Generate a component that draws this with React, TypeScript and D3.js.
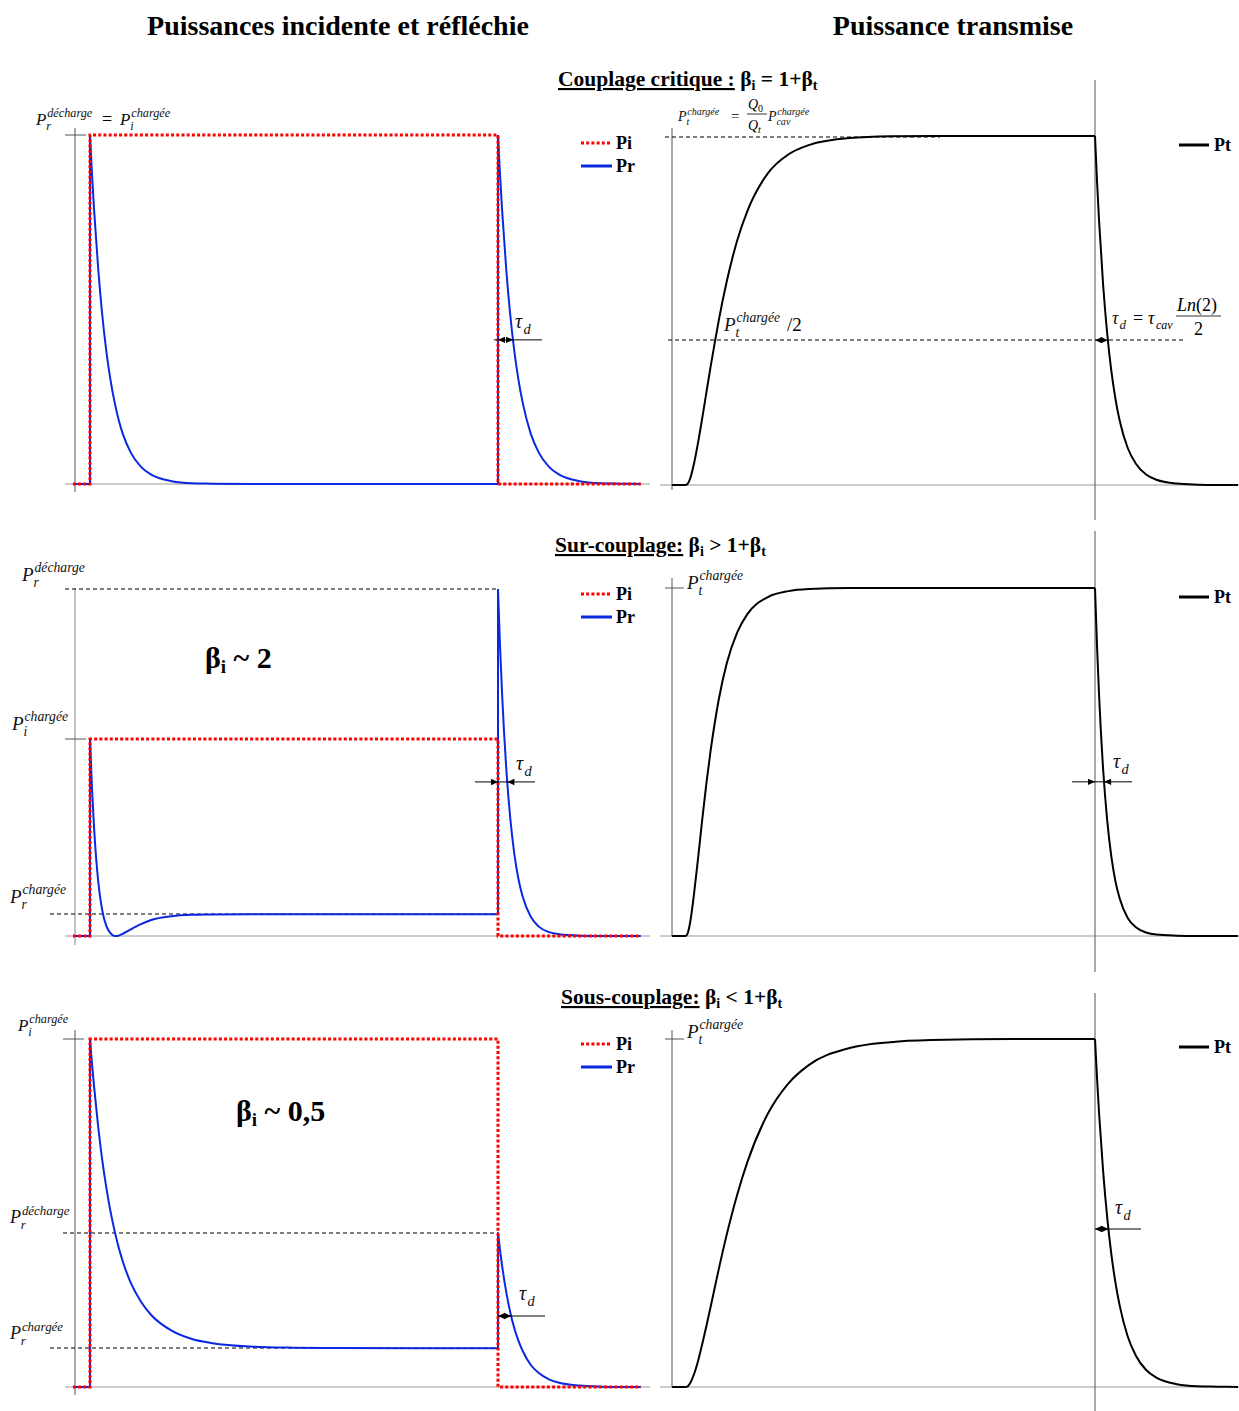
import React from 'react';
import * as d3 from 'd3';

// ---------- data (normalised power, time in pulse units: pulse = 0..10) ----------
const pulseEnd = 10;
const riseT = [0, 0.05, 0.1, 0.2, 0.3, 0.4, 0.5, 0.6, 0.7, 0.8, 1, 1.25, 1.5, 2, 2.5, 3, 4, 5, 6, 8, 10];
const fallT = [0, 0.05, 0.1, 0.2, 0.3, 0.4, 0.5, 0.6, 0.8, 1, 1.25, 1.5, 2, 2.5, 3, 3.5];

// Couplage critique
const piCritical = 1;
const prRiseCritical = [1, 0.886, 0.786, 0.618, 0.485, 0.381, 0.3, 0.236, 0.185, 0.145, 0.09, 0.049, 0.027, 0.008, 0.002, 0.001, 0, 0, 0, 0, 0];
const prFallCritical = [1, 0.886, 0.786, 0.618, 0.485, 0.381, 0.3, 0.236, 0.145, 0.09, 0.049, 0.027, 0.008, 0.002, 0.001, 0];
const ptRiseCritical = [0, 0.005, 0.018, 0.064, 0.125, 0.194, 0.266, 0.338, 0.406, 0.471, 0.585, 0.7, 0.785, 0.893, 0.947, 0.974, 0.994, 0.999, 1, 1, 1];
const ptFallCritical = [1, 0.869, 0.756, 0.571, 0.432, 0.326, 0.247, 0.186, 0.106, 0.061, 0.03, 0.015, 0.004, 0.001, 0, 0];

// Sur-couplage (beta ~ 2)
const piOver = 0.568;
const prRiseOver = [0.568, 0.423, 0.311, 0.159, 0.074, 0.029, 0.008, 0, 0.001, 0.006, 0.019, 0.034, 0.046, 0.057, 0.061, 0.062, 0.063, 0.063, 0.063, 0.063, 0.063];
const prFallOver = [1, 0.835, 0.698, 0.487, 0.34, 0.237, 0.165, 0.115, 0.056, 0.027, 0.011, 0.005, 0.001, 0, 0, 0];
const ptRiseOver = [0, 0.011, 0.038, 0.125, 0.229, 0.338, 0.44, 0.531, 0.61, 0.679, 0.785, 0.872, 0.925, 0.974, 0.991, 0.997, 1, 1, 1, 1, 1];
const ptFallOver = [1, 0.831, 0.691, 0.477, 0.33, 0.228, 0.157, 0.109, 0.052, 0.025, 0.01, 0.004, 0.001, 0, 0, 0];

// Sous-couplage (beta ~ 0,5)
const piUnder = 1;
const prRiseUnder = [1, 0.928, 0.863, 0.748, 0.652, 0.573, 0.506, 0.45, 0.402, 0.362, 0.299, 0.245, 0.207, 0.162, 0.138, 0.126, 0.116, 0.113, 0.112, 0.111, 0.111];
const prFallUnder = [0.444, 0.393, 0.349, 0.274, 0.215, 0.169, 0.133, 0.105, 0.064, 0.04, 0.022, 0.012, 0.004, 0.001, 0, 0];
const ptRiseUnder = [0, 0.003, 0.011, 0.038, 0.077, 0.125, 0.176, 0.229, 0.284, 0.338, 0.44, 0.552, 0.646, 0.785, 0.872, 0.925, 0.974, 0.991, 0.997, 1, 1];
const ptFallUnder = [1, 0.887, 0.786, 0.618, 0.485, 0.381, 0.3, 0.236, 0.145, 0.09, 0.049, 0.027, 0.008, 0.002, 0.001, 0];

// tau_d arrow levels (normalised)
const tauLevelsLeft = [0.413, 0.444, 0.204];
const tauLevelsRight = [0.415, 0.443, 0.454];

// ---------- helpers ----------
const FONT = '"Liberation Serif", "Times New Roman", serif';
type P2 = [number, number];

function crossing(ts: number[], vs: number[], v: number): number {
  for (let i = 0; i < ts.length - 1; i++) {
    if (vs[i] >= v && vs[i + 1] <= v) {
      const f = (vs[i] - v) / (vs[i] - vs[i + 1] || 1);
      return ts[i] + f * (ts[i + 1] - ts[i]);
    }
  }
  return 0;
}

function makeGens(x: d3.ScaleLinear<number, number>, y: d3.ScaleLinear<number, number>) {
  const lin = d3.line<P2>().x((d) => x(d[0])).y((d) => y(d[1]));
  const smooth = d3.line<P2>().x((d) => x(d[0])).y((d) => y(d[1])).curve(d3.curveMonotoneX);
  return { lin, smooth };
}

function Arrowhead({ x, y, dir }: { x: number; y: number; dir: number }) {
  const l = 7, h = 3.2;
  return <path d={`M${x},${y}L${x - dir * l},${y - h}L${x - dir * l},${y + h}Z`} fill="#000" />;
}

function TauArrow({ x0, x1, y, mode, extL, extR }: { x0: number; x1: number; y: number; mode: string; extL: number; extR: number }) {
  return (
    <g>
      <line x1={extL} x2={extR} y1={y} y2={y} stroke="#000" strokeWidth={1} />
      {mode === 'out' ? (
        <>
          <Arrowhead x={x0} y={y} dir={-1} />
          <Arrowhead x={x1} y={y} dir={1} />
        </>
      ) : (
        <>
          <Arrowhead x={x0} y={y} dir={1} />
          <Arrowhead x={x1} y={y} dir={-1} />
        </>
      )}
    </g>
  );
}

function MathP({ x, y, sup, sub, size = 18 }: { x: number; y: number; sup: string; sub: string; size?: number }) {
  const s = size * 0.72;
  return (
    <g fontFamily={FONT} fontStyle="italic" fill="#111">
      <text x={x} y={y} fontSize={size}>P</text>
      <text x={x + size * 0.66} y={y - size * 0.45} fontSize={s}>{sup}</text>
      <text x={x + size * 0.6} y={y + size * 0.32} fontSize={s}>{sub}</text>
    </g>
  );
}

function Tau({ x, y, size = 20 }: { x: number; y: number; size?: number }) {
  return (
    <g fontFamily={FONT} fontStyle="italic" fill="#111">
      <text x={x} y={y} fontSize={size}>τ</text>
      <text x={x + size * 0.42} y={y + size * 0.3} fontSize={size * 0.72}>d</text>
    </g>
  );
}

function LegendLeft({ y }: { y: number }) {
  return (
    <g fontFamily={FONT} fontWeight="bold" fontSize={18}>
      <line x1={581} x2={612} y1={y} y2={y} stroke="#ff0000" strokeWidth={3} strokeDasharray="3,2.2" />
      <text x={616} y={y + 6}>Pi</text>
      <line x1={581} x2={612} y1={y + 23} y2={y + 23} stroke="#0a28e0" strokeWidth={3} />
      <text x={616} y={y + 29}>Pr</text>
    </g>
  );
}

function LegendRight({ y }: { y: number }) {
  return (
    <g fontFamily={FONT} fontWeight="bold" fontSize={18}>
      <line x1={1179} x2={1209} y1={y} y2={y} stroke="#000" strokeWidth={3} />
      <text x={1214} y={y + 6}>Pt</text>
    </g>
  );
}

function LeftCurves({ base, top, pi, prRise, prFall, tauLevel, mode, extL, extR }: any) {
  const x = d3.scaleLinear().domain([0, pulseEnd]).range([90, 498]);
  const y = d3.scaleLinear().domain([0, 1]).range([base, top]);
  const { lin, smooth } = makeGens(x, y);
  const tEnd = pulseEnd + fallT[fallT.length - 1];
  const prPath =
    (lin([[-0.37, 0], [0, 0], [0, prRise[0]]]) || '') +
    (smooth(riseT.map((t, i) => [t, prRise[i]] as P2)) || '') +
    (lin([[pulseEnd, prRise[prRise.length - 1]], [pulseEnd, prFall[0]]]) || '') +
    (smooth(fallT.map((t, i) => [pulseEnd + t, prFall[i]] as P2)) || '');
  const piPath = lin([[-0.42, 0], [0, 0], [0, pi], [pulseEnd, pi], [pulseEnd, 0], [tEnd, 0]]) || '';
  const dt = crossing(fallT, prFall, tauLevel);
  return (
    <g>
      <path d={prPath} fill="none" stroke="#0a28e0" strokeWidth={2} strokeLinejoin="round" />
      <path d={piPath} fill="none" stroke="#ff0000" strokeWidth={3} strokeDasharray="3,2.2" />
      <TauArrow x0={x(pulseEnd)} x1={x(pulseEnd + dt)} y={y(tauLevel)} mode={mode} extL={extL} extR={extR} />
    </g>
  );
}

function RightCurves({ base, top, ptRise, ptFall, tauLevel, mode, extL, extR }: any) {
  const x = d3.scaleLinear().domain([0, pulseEnd]).range([686, 1095]);
  const y = d3.scaleLinear().domain([0, 1]).range([base, top]);
  const { lin, smooth } = makeGens(x, y);
  const ptPath =
    (lin([[-0.34, 0], [0, 0]]) || '') +
    (smooth(riseT.map((t, i) => [t, ptRise[i]] as P2)) || '') +
    (smooth(fallT.map((t, i) => [pulseEnd + t, ptFall[i]] as P2)) || '');
  const dt = crossing(fallT, ptFall, tauLevel);
  return (
    <g>
      <path d={ptPath} fill="none" stroke="#000" strokeWidth={2} strokeLinejoin="round" />
      <TauArrow x0={x(pulseEnd)} x1={x(pulseEnd + dt)} y={y(tauLevel)} mode={mode} extL={extL} extR={extR} />
    </g>
  );
}

const AX = '#555';
const BASE = '#999';

function Subtitle({ x, y, head, rel }: { x: number; y: number; head: string; rel: string }) {
  return (
    <text x={x} y={y}>
      <tspan style={{ textDecoration: 'underline' }}>{head}</tspan>
      <tspan> β</tspan><tspan fontSize={14} dy={4}>i</tspan><tspan dy={-4}>{` ${rel} 1+β`}</tspan><tspan fontSize={14} dy={4}>t</tspan>
    </text>
  );
}

export default function App() {
  return (
    <svg width={1239} height={1411} viewBox="0 0 1239 1411" style={{ position: 'absolute', left: 0, top: 0, display: 'block', background: '#fff' }}>
      <rect width={1239} height={1411} fill="#fff" />
      {/* titles */}
      <g fontFamily={FONT} fontWeight="bold" fontSize={28} fill="#000" textAnchor="middle">
        <text x={338} y={35}>Puissances incidente et réfléchie</text>
        <text x={953} y={35}>Puissance transmise</text>
      </g>
      {/* subtitles */}
      <g fontFamily={FONT} fontWeight="bold" fontSize={21.5} fill="#000">
        <Subtitle x={558} y={86} head="Couplage critique :" rel="=" />
        <Subtitle x={555} y={552} head="Sur-couplage:" rel=">" />
        <Subtitle x={561} y={1004} head="Sous-couplage:" rel="<" />
      </g>

      {/* ===== Panel 1 left ===== */}
      <line x1={65} x2={650} y1={484} y2={484} stroke={BASE} strokeWidth={1} />
      <line x1={75} x2={75} y1={128} y2={492} stroke={AX} strokeWidth={1} />
      <line x1={65} x2={86} y1={135} y2={135} stroke={AX} strokeWidth={1} />
      <LeftCurves base={484} top={135} pi={piCritical} prRise={prRiseCritical} prFall={prFallCritical} tauLevel={tauLevelsLeft[0]} mode="out" extL={494} extR={542} />
      <MathP x={36} y={125} sup="décharge" sub="r" size={17} />
      <text x={102} y={125} fontFamily={FONT} fontSize={18}>=</text>
      <MathP x={120} y={125} sup="chargée" sub="i" size={17} />
      <Tau x={515} y={328} />
      <LegendLeft y={143} />

      {/* ===== Panel 1 right ===== */}
      <line x1={660} x2={1237} y1={485} y2={485} stroke={BASE} strokeWidth={1} />
      <line x1={672} x2={672} y1={128} y2={490} stroke={AX} strokeWidth={1} />
      <line x1={1095} x2={1095} y1={80} y2={520} stroke={AX} strokeWidth={1} />
      <line x1={665} x2={940} y1={137} y2={137} stroke="#000" strokeWidth={1} strokeDasharray="4,3" />
      <line x1={668} x2={1185} y1={340} y2={340} stroke="#000" strokeWidth={1} strokeDasharray="4,3" />
      <RightCurves base={485} top={136} ptRise={ptRiseCritical} ptFall={ptFallCritical} tauLevel={tauLevelsRight[0]} mode="out" extL={1095} extR={1095} />
      <MathP x={678} y={121} sup="chargée" sub="t" size={14} />
      <text x={731} y={121} fontFamily={FONT} fontSize={15}>=</text>
      <g fontFamily={FONT} fontStyle="italic" fontSize={14}>
        <text x={748} y={109}>Q</text><text x={758} y={112} fontSize={10} fontStyle="normal">0</text>
        <text x={748} y={130}>Q</text><text x={758} y={133} fontSize={10}>t</text>
      </g>
      <line x1={747} x2={767} y1={114} y2={114} stroke="#000" strokeWidth={0.8} />
      <MathP x={768} y={121} sup="chargée" sub="cav" size={14} />
      <MathP x={724} y={331} sup="chargée" sub="t" size={19} />
      <text x={787} y={331} fontFamily={FONT} fontSize={19}>/2</text>
      <Tau x={1112} y={324} size={18} />
      <text x={1133} y={324} fontFamily={FONT} fontSize={18}>=</text>
      <g fontFamily={FONT} fontStyle="italic">
        <text x={1148} y={324} fontSize={18}>τ</text>
        <text x={1156} y={329} fontSize={12}>cav</text>
        <text x={1177} y={311} fontSize={18}>Ln<tspan fontStyle="normal">(2)</tspan></text>
        <text x={1194} y={335} fontSize={18} fontStyle="normal">2</text>
      </g>
      <line x1={1176} x2={1221} y1={316} y2={316} stroke="#000" strokeWidth={0.8} />
      <LegendRight y={145} />

      {/* ===== Panel 2 left ===== */}
      <line x1={65} x2={650} y1={936} y2={936} stroke={BASE} strokeWidth={1} />
      <line x1={75} x2={75} y1={588} y2={945} stroke="#999" strokeWidth={1.2} />
      <line x1={65} x2={498} y1={589} y2={589} stroke="#000" strokeWidth={1} strokeDasharray="4,3" />
      <line x1={65} x2={86} y1={739} y2={739} stroke={AX} strokeWidth={1} />
      <line x1={50} x2={498} y1={914} y2={914} stroke="#000" strokeWidth={1} strokeDasharray="4,3" />
      <LeftCurves base={936} top={589} pi={piOver} prRise={prRiseOver} prFall={prFallOver} tauLevel={tauLevelsLeft[1]} mode="in" extL={475} extR={535} />
      <MathP x={22} y={581} sup="décharge" sub="r" size={19} />
      <MathP x={12} y={730} sup="chargée" sub="i" size={19} />
      <MathP x={10} y={903} sup="chargée" sub="r" size={19} />
      <Tau x={516} y={770} />
      <text x={205} y={668} fontFamily={FONT} fontWeight="bold" fontSize={30}>β<tspan fontSize={19} dy={5}>i</tspan><tspan dy={-5}> ~ 2</tspan></text>
      <LegendLeft y={594} />

      {/* ===== Panel 2 right ===== */}
      <line x1={660} x2={1237} y1={936} y2={936} stroke={BASE} strokeWidth={1} />
      <line x1={672} x2={672} y1={578} y2={936} stroke={AX} strokeWidth={1} />
      <line x1={665} x2={684} y1={588} y2={588} stroke={AX} strokeWidth={1} />
      <line x1={1095} x2={1095} y1={531} y2={972} stroke={AX} strokeWidth={1} />
      <RightCurves base={936} top={588} ptRise={ptRiseOver} ptFall={ptFallOver} tauLevel={tauLevelsRight[1]} mode="in" extL={1072} extR={1132} />
      <MathP x={687} y={589} sup="chargée" sub="t" size={19} />
      <Tau x={1113} y={768} />
      <LegendRight y={597} />

      {/* ===== Panel 3 left ===== */}
      <line x1={65} x2={650} y1={1387} y2={1387} stroke={BASE} strokeWidth={1} />
      <line x1={75} x2={75} y1={1030} y2={1395} stroke={AX} strokeWidth={1} />
      <line x1={63} x2={84} y1={1039} y2={1039} stroke={AX} strokeWidth={1} />
      <line x1={63} x2={498} y1={1233} y2={1233} stroke="#000" strokeWidth={1} strokeDasharray="4,3" />
      <line x1={50} x2={498} y1={1348} y2={1348} stroke="#000" strokeWidth={1} strokeDasharray="4,3" />
      <LeftCurves base={1387} top={1039} pi={piUnder} prRise={prRiseUnder} prFall={prFallUnder} tauLevel={tauLevelsLeft[2]} mode="out" extL={498} extR={545} />
      <MathP x={18} y={1031} sup="chargée" sub="i" size={17} />
      <MathP x={10} y={1223} sup="décharge" sub="r" size={18} />
      <MathP x={10} y={1339} sup="chargée" sub="r" size={18} />
      <Tau x={519} y={1300} />
      <text x={236} y={1121} fontFamily={FONT} fontWeight="bold" fontSize={30}>β<tspan fontSize={19} dy={5}>i</tspan><tspan dy={-5}> ~ 0,5</tspan></text>
      <LegendLeft y={1044} />

      {/* ===== Panel 3 right ===== */}
      <line x1={660} x2={1237} y1={1387} y2={1387} stroke={BASE} strokeWidth={1} />
      <line x1={672} x2={672} y1={1030} y2={1387} stroke={AX} strokeWidth={1} />
      <line x1={665} x2={684} y1={1039} y2={1039} stroke={AX} strokeWidth={1} />
      <line x1={1095} x2={1095} y1={993} y2={1411} stroke={AX} strokeWidth={1} />
      <RightCurves base={1387} top={1039} ptRise={ptRiseUnder} ptFall={ptFallUnder} tauLevel={tauLevelsRight[2]} mode="out" extL={1095} extR={1141} />
      <MathP x={687} y={1038} sup="chargée" sub="t" size={19} />
      <Tau x={1115} y={1214} />
      <LegendRight y={1047} />
    </svg>
  );
}
